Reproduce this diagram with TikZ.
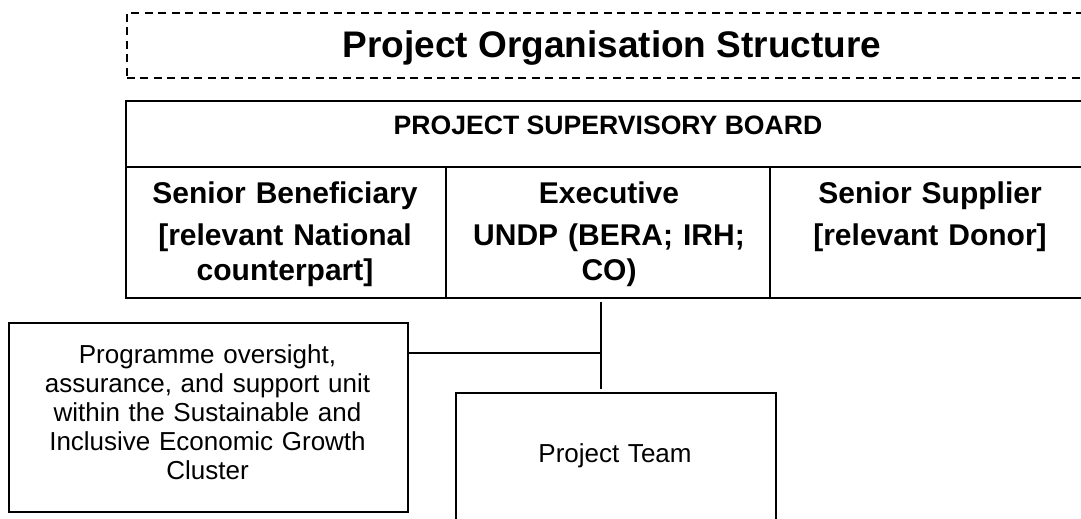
\documentclass[tikz,border=0pt]{standalone}
\usepackage{fontspec}
\setmainfont{Liberation Sans}
\begin{document}
\begin{tikzpicture}[x=1pt,y=-1pt,
  box/.style={draw, line width=1.5pt, inner sep=0pt, anchor=north west},
  cell/.style={draw, line width=2pt, inner sep=0pt, anchor=north west},
  conn/.style={line width=1.5pt},
  celltxt/.style={anchor=base, inner sep=0pt, text width=310pt, align=center,
    font=\fontsize{30}{35}\selectfont\bfseries},
  boxtxt/.style={anchor=base, inner sep=0pt, text width=390pt, align=center,
    font=\fontsize{26}{29}\selectfont},
]
\useasboundingbox (0,0) rectangle (1081,519);
% title
\node[draw, dash pattern=on 8pt off 5.5pt, line width=1.8pt, minimum width=966pt,
  minimum height=65pt, anchor=north west, inner sep=0pt] (titlebox) at (126,12) {};
\node[anchor=base, inner sep=0pt, font=\fontsize{37}{42}\selectfont\bfseries]
  (title) at (612,58) {Project Organisation Structure};
% board table
\node[cell, minimum width=967pt, minimum height=66pt] (hdr) at (125,100) {};
\node[cell, minimum width=320pt, minimum height=131pt] (sbcell) at (125,166) {};
\node[cell, minimum width=324pt, minimum height=131pt] (excell) at (445,166) {};
\node[cell, minimum width=323pt, minimum height=131pt] (sscell) at (769,166) {};
\node[anchor=base, inner sep=0pt, font=\fontsize{26.6}{30}\selectfont\bfseries]
  (hdrtxt) at (608,134) {PROJECT SUPERVISORY BOARD};
\node[celltxt] (sbtxt) at (285,203) {Senior Beneficiary\\[7pt]{[}relevant National\\counterpart{]}};
\node[celltxt] (extxt) at (609,203) {Executive\\[7pt]UNDP (BERA; IRH;\\CO)};
\node[celltxt] (sstxt) at (930,203) {Senior Supplier\\[7pt]{[}relevant Donor{]}};
% lower boxes
\node[box, minimum width=399pt, minimum height=189pt] (pos) at (8,322) {};
\node[boxtxt] (postxt) at (207.5,363) {Programme oversight,\\assurance, and support unit\\within the Sustainable and\\Inclusive Economic Growth\\Cluster};
\node[box, minimum width=320pt, minimum height=170pt] (team) at (455,392) {};
\node[boxtxt, text width=310pt] (teamtxt) at (615,462) {Project Team};
% connectors
\coordinate (j) at (601,353);
\draw[conn, shorten <=2.5pt, shorten >=3pt] (j |- excell.south) -- (j |- team.north);
\draw[conn] (pos.east |- j) -- (j);
\end{tikzpicture}
\end{document}
